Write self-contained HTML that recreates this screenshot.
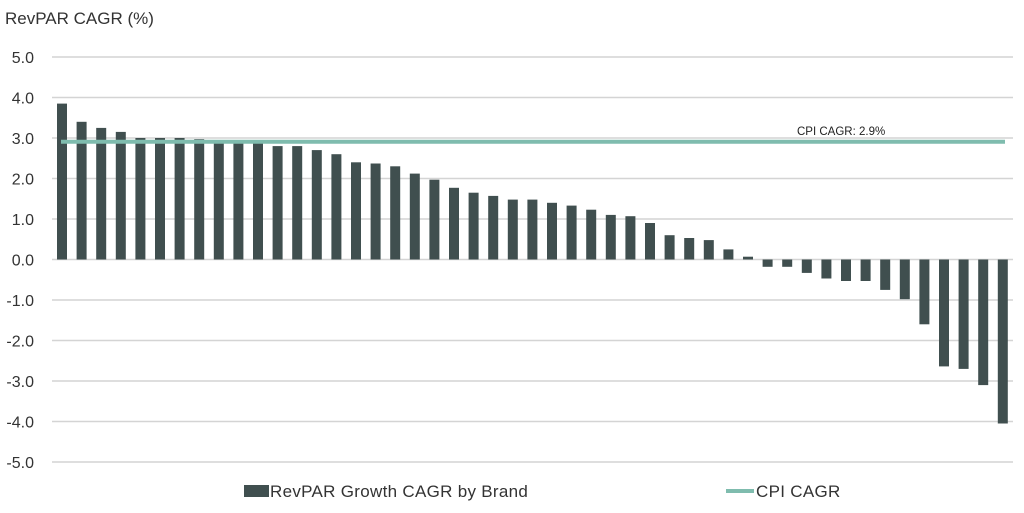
<!DOCTYPE html>
<html><head><meta charset="utf-8"><style>
html,body{margin:0;padding:0;background:#fff;}
svg{display:block;font-family:"Liberation Sans",sans-serif;}
</style></head><body>
<svg width="1024" height="513" viewBox="0 0 1024 513">
<text x="5" y="24" font-size="17" fill="#333">RevPAR CAGR (%)</text>
<g stroke="#d4d4d4" stroke-width="1.5">
<line x1="52" x2="1013" y1="57" y2="57"/>
<line x1="52" x2="1013" y1="97.5" y2="97.5"/>
<line x1="52" x2="1013" y1="138" y2="138"/>
<line x1="52" x2="1013" y1="178.5" y2="178.5"/>
<line x1="52" x2="1013" y1="219" y2="219"/>
<line x1="52" x2="1013" y1="259.5" y2="259.5"/>
<line x1="52" x2="1013" y1="300" y2="300"/>
<line x1="52" x2="1013" y1="340.5" y2="340.5"/>
<line x1="52" x2="1013" y1="381" y2="381"/>
<line x1="52" x2="1013" y1="421.5" y2="421.5"/>
<line x1="52" x2="1013" y1="462" y2="462"/>
</g>
<g font-size="16" fill="#333" text-anchor="end">
<text x="34" y="63">5.0</text>
<text x="34" y="103.5">4.0</text>
<text x="34" y="144">3.0</text>
<text x="34" y="184.5">2.0</text>
<text x="34" y="225">1.0</text>
<text x="34" y="265.5">0.0</text>
<text x="34" y="306">-1.0</text>
<text x="34" y="346.5">-2.0</text>
<text x="34" y="387">-3.0</text>
<text x="34" y="427.5">-4.0</text>
<text x="34" y="468">-5.0</text>
</g>
<g fill="#404f4f">
<rect x="57.0" y="103.6" width="10" height="155.9"/>
<rect x="76.6" y="121.8" width="10" height="137.7"/>
<rect x="96.2" y="127.9" width="10" height="131.6"/>
<rect x="115.8" y="131.9" width="10" height="127.6"/>
<rect x="135.4" y="138" width="10" height="121.5"/>
<rect x="155.0" y="138" width="10" height="121.5"/>
<rect x="174.6" y="138" width="10" height="121.5"/>
<rect x="194.2" y="139.2" width="10" height="120.3"/>
<rect x="213.8" y="142" width="10" height="117.5"/>
<rect x="233.4" y="142" width="10" height="117.5"/>
<rect x="253.0" y="142" width="10" height="117.5"/>
<rect x="272.6" y="146.1" width="10" height="113.4"/>
<rect x="292.2" y="146.1" width="10" height="113.4"/>
<rect x="311.8" y="150.1" width="10" height="109.4"/>
<rect x="331.4" y="154.2" width="10" height="105.3"/>
<rect x="351.0" y="162.3" width="10" height="97.2"/>
<rect x="370.6" y="163.5" width="10" height="96"/>
<rect x="390.2" y="166.3" width="10" height="93.2"/>
<rect x="409.8" y="173.6" width="10" height="85.9"/>
<rect x="429.4" y="179.7" width="10" height="79.8"/>
<rect x="449.0" y="187.8" width="10" height="71.7"/>
<rect x="468.6" y="192.7" width="10" height="66.8"/>
<rect x="488.2" y="195.9" width="10" height="63.6"/>
<rect x="507.8" y="199.6" width="10" height="59.9"/>
<rect x="527.4" y="199.6" width="10" height="59.9"/>
<rect x="547.0" y="202.8" width="10" height="56.7"/>
<rect x="566.6" y="205.6" width="10" height="53.9"/>
<rect x="586.2" y="209.7" width="10" height="49.8"/>
<rect x="605.8" y="214.9" width="10" height="44.6"/>
<rect x="625.4" y="216.2" width="10" height="43.3"/>
<rect x="645.0" y="223" width="10" height="36.5"/>
<rect x="664.6" y="235.2" width="10" height="24.3"/>
<rect x="684.2" y="238" width="10" height="21.5"/>
<rect x="703.8" y="240.1" width="10" height="19.4"/>
<rect x="723.4" y="249.4" width="10" height="10.1"/>
<rect x="743.0" y="256.7" width="10" height="2.8"/>
<rect x="762.6" y="259.5" width="10" height="7.3"/>
<rect x="782.2" y="259.5" width="10" height="7.3"/>
<rect x="801.8" y="259.5" width="10" height="13.4"/>
<rect x="821.4" y="259.5" width="10" height="19"/>
<rect x="841.0" y="259.5" width="10" height="21.5"/>
<rect x="860.6" y="259.5" width="10" height="21.5"/>
<rect x="880.2" y="259.5" width="10" height="30.4"/>
<rect x="899.8" y="259.5" width="10" height="39.7"/>
<rect x="919.4" y="259.5" width="10" height="64.8"/>
<rect x="939.0" y="259.5" width="10" height="106.9"/>
<rect x="958.6" y="259.5" width="10" height="109.4"/>
<rect x="978.2" y="259.5" width="10" height="125.6"/>
<rect x="997.8" y="259.5" width="10" height="164"/>
</g>
<line x1="61" x2="1005" y1="141.8" y2="141.8" stroke="#7fbcae" stroke-width="4"/>
<text x="797" y="135" font-size="11.5" fill="#222">CPI CAGR: 2.9%</text>
<rect x="244" y="485" width="25" height="12" fill="#404f4f"/>
<text x="270" y="497" font-size="17" letter-spacing="0.3" fill="#333">RevPAR Growth CAGR by Brand</text>
<line x1="726" x2="754" y1="491" y2="491" stroke="#7fbcae" stroke-width="4"/>
<text x="756" y="497" font-size="17" letter-spacing="0.3" fill="#333">CPI CAGR</text>
</svg>
</body></html>
